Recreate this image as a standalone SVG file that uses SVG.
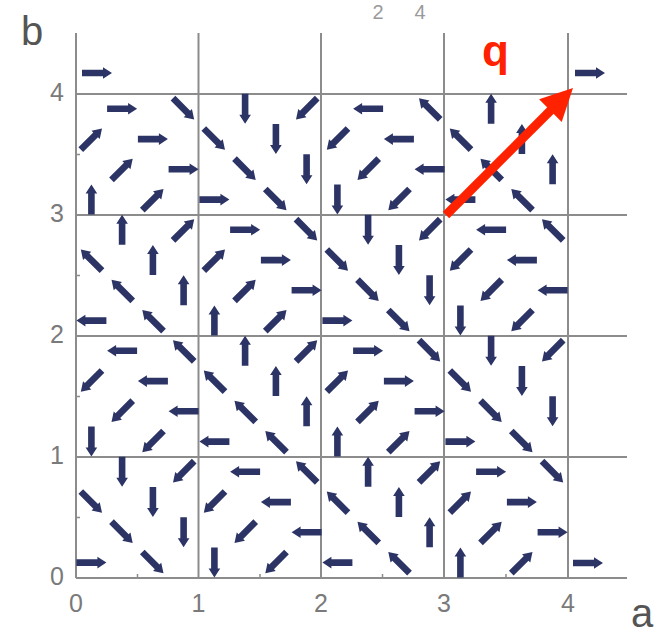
<svg xmlns="http://www.w3.org/2000/svg" width="667" height="637" viewBox="0 0 667 637">
<style>
.grid{stroke:#8c8c8c;stroke-width:2;fill:none}
.tick{stroke:#8c8c8c;stroke-width:1.5}
.num{font-family:"Liberation Sans",Arial,sans-serif;font-size:25px;fill:#7a7a7a}
.ax{font-family:"Liberation Sans",Arial,sans-serif;font-size:40px;fill:#555}
.top{font-family:"Liberation Sans",Arial,sans-serif;font-size:20px;fill:#9a9a9a;text-anchor:middle}
</style>
<defs>
<path id="ar" fill="#2c3466" d="M-15,-3.3 H6 V-5.8 L15,0 L6,5.8 V3.3 H-15 Z"/>
<g id="c0">
<use href="#ar" transform="translate(15.4,-15.1)"/>
<use href="#ar" transform="translate(76.9,-15.1) rotate(45)"/>
<use href="#ar" transform="translate(46.1,-45.4) rotate(45)"/>
<use href="#ar" transform="translate(107.6,-45.4) rotate(90)"/>
<use href="#ar" transform="translate(15.4,-75.6) rotate(45)"/>
<use href="#ar" transform="translate(76.9,-75.6) rotate(90)"/>
<use href="#ar" transform="translate(46.1,-105.9) rotate(90)"/>
<use href="#ar" transform="translate(107.6,-105.9) rotate(135)"/>
</g>
<g id="c1">
<use href="#ar" transform="translate(15.4,-15.1) rotate(90)"/>
<use href="#ar" transform="translate(76.9,-15.1) rotate(135)"/>
<use href="#ar" transform="translate(46.1,-45.4) rotate(135)"/>
<use href="#ar" transform="translate(107.6,-45.4) rotate(180)"/>
<use href="#ar" transform="translate(15.4,-75.6) rotate(135)"/>
<use href="#ar" transform="translate(76.9,-75.6) rotate(180)"/>
<use href="#ar" transform="translate(46.1,-105.9) rotate(180)"/>
<use href="#ar" transform="translate(107.6,-105.9) rotate(225)"/>
</g>
<g id="c2">
<use href="#ar" transform="translate(15.4,-15.1) rotate(180)"/>
<use href="#ar" transform="translate(76.9,-15.1) rotate(225)"/>
<use href="#ar" transform="translate(46.1,-45.4) rotate(225)"/>
<use href="#ar" transform="translate(107.6,-45.4) rotate(270)"/>
<use href="#ar" transform="translate(15.4,-75.6) rotate(225)"/>
<use href="#ar" transform="translate(76.9,-75.6) rotate(270)"/>
<use href="#ar" transform="translate(46.1,-105.9) rotate(270)"/>
<use href="#ar" transform="translate(107.6,-105.9) rotate(315)"/>
</g>
<g id="c3">
<use href="#ar" transform="translate(15.4,-15.1) rotate(270)"/>
<use href="#ar" transform="translate(76.9,-15.1) rotate(315)"/>
<use href="#ar" transform="translate(46.1,-45.4) rotate(315)"/>
<use href="#ar" transform="translate(107.6,-45.4)"/>
<use href="#ar" transform="translate(15.4,-75.6) rotate(315)"/>
<use href="#ar" transform="translate(76.9,-75.6)"/>
<use href="#ar" transform="translate(46.1,-105.9)"/>
<use href="#ar" transform="translate(107.6,-105.9) rotate(45)"/>
</g>
</defs>
<rect width="667" height="637" fill="#fff"/>
<g id="grid">
<path class="grid" d="M76,33V578 M198.5,33V578 M321,33V578 M444,33V578 M568,33V578"/>
<path class="grid" d="M76,94H627 M76,215H627 M76,336H627 M76,457H627 M76,578H627"/>
<path class="tick" d="M137.5,578v-4 M260,578v-4 M382.5,578v-4 M506,578v-4 M76,517.5h4 M76,396.5h4 M76,275.5h4 M76,154.5h4"/>
</g>
<g id="spins">
<g id="cell-0-0"><use href="#c0" transform="translate(76,577.7)"/></g>
<g id="cell-1-0"><use href="#c1" transform="translate(199,577.7)"/></g>
<g id="cell-2-0"><use href="#c2" transform="translate(322,577.7)"/></g>
<g id="cell-3-0"><use href="#c3" transform="translate(445,577.7)"/></g>
<g id="cell-0-1"><use href="#c1" transform="translate(76,456.7)"/></g>
<g id="cell-1-1"><use href="#c2" transform="translate(199,456.7)"/></g>
<g id="cell-2-1"><use href="#c3" transform="translate(322,456.7)"/></g>
<g id="cell-3-1"><use href="#c0" transform="translate(445,456.7)"/></g>
<g id="cell-0-2"><use href="#c2" transform="translate(76,335.7)"/></g>
<g id="cell-1-2"><use href="#c3" transform="translate(199,335.7)"/></g>
<g id="cell-2-2"><use href="#c0" transform="translate(322,335.7)"/></g>
<g id="cell-3-2"><use href="#c1" transform="translate(445,335.7)"/></g>
<g id="cell-0-3"><use href="#c3" transform="translate(76,214.7)"/></g>
<g id="cell-1-3"><use href="#c0" transform="translate(199,214.7)"/></g>
<g id="cell-2-3"><use href="#c1" transform="translate(322,214.7)"/></g>
<g id="cell-3-3"><use href="#c2" transform="translate(445,214.7)"/></g>
<g id="extra">
<use href="#ar" transform="translate(97,73)"/>
<use href="#ar" transform="translate(590,73)"/>
<use href="#ar" transform="translate(588,563)"/>
</g>
</g>
<g id="q-vector">
<line x1="446" y1="215" x2="553" y2="108" stroke="#ff2200" stroke-width="9"/>
<polygon points="573,88 561.7,121.9 539.1,99.3" fill="#ff2200"/>
<text x="482" y="66" font-family="Liberation Sans, Arial, sans-serif" font-size="44" font-weight="bold" fill="#ff2200">q</text>
</g>
<g id="labels">
<text class="num" x="76" y="612" text-anchor="middle">0</text>
<text class="num" x="198.5" y="612" text-anchor="middle">1</text>
<text class="num" x="321" y="612" text-anchor="middle">2</text>
<text class="num" x="444" y="612" text-anchor="middle">3</text>
<text class="num" x="568" y="612" text-anchor="middle">4</text>
<text class="num" x="64" y="585" text-anchor="end">0</text>
<text class="num" x="64" y="464" text-anchor="end">1</text>
<text class="num" x="64" y="343" text-anchor="end">2</text>
<text class="num" x="64" y="222" text-anchor="end">3</text>
<text class="num" x="64" y="101" text-anchor="end">4</text>
<text class="ax" x="21" y="45">b</text>
<text class="ax" x="631" y="627" font-size="37">a</text>
<text class="top" x="378" y="19">2</text>
<text class="top" x="420" y="19">4</text>
</g>
</svg>
